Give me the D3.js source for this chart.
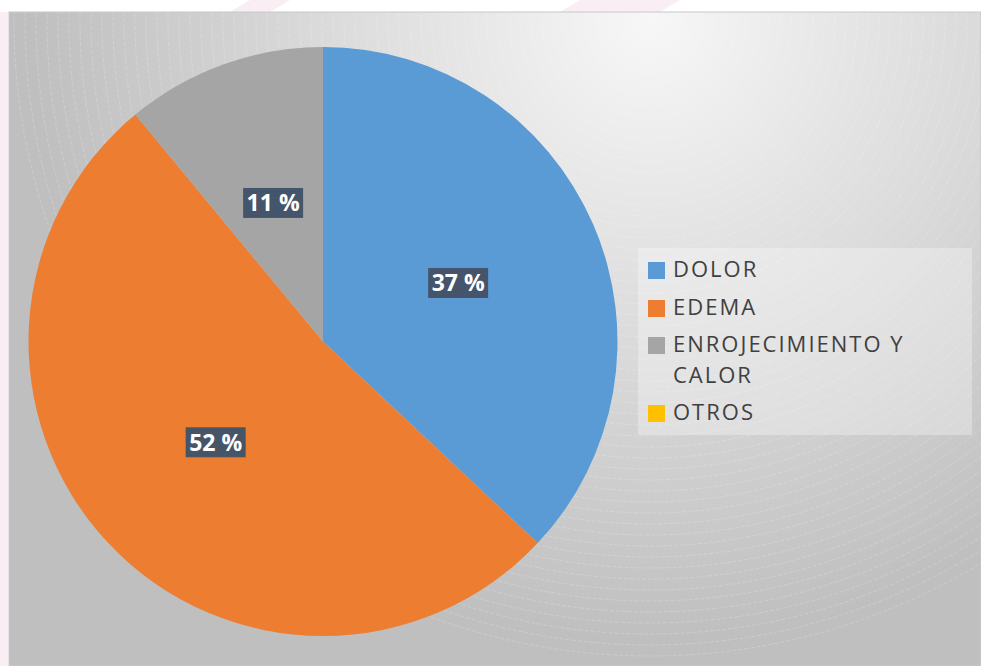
<!DOCTYPE html>
<html>
<head>
<meta charset="utf-8">
<script src="https://cdn.jsdelivr.net/npm/d3@7/dist/d3.min.js"></script>
<style>
  html, body { margin: 0; padding: 0; background: #fff; }
  svg { display: block; }
</style>
</head>
<body>
<svg id="chart" width="981" height="666"></svg>
<script>
'use strict';

const categories = ['DOLOR', 'EDEMA', 'ENROJECIMIENTO Y CALOR', 'OTROS'];
const legendLines = [['DOLOR'], ['EDEMA'], ['ENROJECIMIENTO Y', 'CALOR'], ['OTROS']];
const values = [37, 52, 11, 0];
const colors = ['#5b9bd5', '#ed7d31', '#a5a5a5', '#ffc000'];

const W = 981, H = 666;
const svg = d3.select('#chart');
const defs = svg.append('defs');

// background gradient of the chart area
const grad = defs.append('radialGradient')
  .attr('id', 'bg')
  .attr('gradientUnits', 'userSpaceOnUse')
  .attr('cx', 650).attr('cy', 20).attr('r', 620);
grad.append('stop').attr('offset', '0%').attr('stop-color', '#f7f7f7');
grad.append('stop').attr('offset', '55%').attr('stop-color', '#d9d9d9');
grad.append('stop').attr('offset', '100%').attr('stop-color', '#bfbfbf');

// striped label background
const pat = defs.append('pattern')
  .attr('id', 'stripe')
  .attr('patternUnits', 'userSpaceOnUse')
  .attr('width', 4).attr('height', 4);
pat.append('rect').attr('width', 4).attr('height', 4).attr('fill', '#44546a');
pat.append('rect').attr('y', 2).attr('width', 4).attr('height', 1).attr('fill', '#4d5560');

// faint watermark in the white margin
const wm = svg.append('g').attr('fill', '#f8eef3');
[[230, 60], [560, 120]].forEach(d => {
  wm.append('path')
    .attr('d', `M${d[0]},12 L${d[0] + 20},0 L${d[0] + d[1]},0 L${d[0] + d[1] - 20},12 Z`);
});
wm.append('rect').attr('x', 0).attr('y', 12).attr('width', 8).attr('height', H - 12);

// chart area
const area = { x: 9, y: 12, w: W - 9, h: H - 12 };
svg.append('rect')
  .attr('x', area.x).attr('y', area.y)
  .attr('width', area.w).attr('height', area.h)
  .attr('fill', 'url(#bg)')
  .attr('stroke', '#c8c8c8');

// faint concentric rings
svg.append('clipPath').attr('id', 'areaClip')
  .append('rect').attr('x', area.x).attr('y', area.y).attr('width', area.w).attr('height', area.h);
const rings = svg.append('g')
  .attr('clip-path', 'url(#areaClip)')
  .attr('fill', 'none')
  .attr('stroke', '#ffffff')
  .attr('stroke-opacity', 0.2)
  .attr('stroke-dasharray', '4 2');
d3.range(20, 640, 11).forEach(r => {
  rings.append('circle').attr('cx', 650).attr('cy', 20).attr('r', r);
});

// pie
const cx = 323, cy = 341.5, R = 294.5;
const pie = d3.pie().sort(null).value(d => d.value);
const arcs = pie(categories.map((c, i) => ({ name: c, value: values[i], color: colors[i] })));
const arc = d3.arc().innerRadius(0).outerRadius(R);

const g = svg.append('g').attr('transform', `translate(${cx},${cy})`);
g.selectAll('path')
  .data(arcs.filter(d => d.data.value > 0))
  .join('path')
    .attr('d', arc)
    .attr('fill', d => d.data.color);

// data labels
const labels = g.selectAll('g.lbl')
  .data(arcs.filter(d => d.data.value > 0))
  .join('g')
    .attr('class', 'lbl')
    .attr('transform', d => `translate(${arc.centroid(d)})`);
labels.append('rect')
  .attr('x', -30).attr('y', -15)
  .attr('width', 60).attr('height', 30)
  .attr('fill', 'url(#stripe)');
labels.append('text')
  .text(d => d.data.value + ' %')
  .attr('text-anchor', 'middle')
  .attr('dy', '0.36em')
  .attr('fill', '#ffffff')
  .style('font-family', '"Open Sans", "DejaVu Sans", sans-serif')
  .style('font-weight', 'bold')
  .style('font-size', '23px');

// legend
const lg = svg.append('g');
lg.append('rect')
  .attr('x', 638).attr('y', 248)
  .attr('width', 334).attr('height', 187)
  .attr('fill', '#ffffff').attr('fill-opacity', 0.3);

const baseY = [277, 315, 352, 420];
legendLines.forEach((lines, i) => {
  lg.append('rect')
    .attr('x', 648).attr('y', baseY[i] - 15)
    .attr('width', 17).attr('height', 17)
    .attr('fill', colors[i]);
  lines.forEach((t, j) => {
    lg.append('text')
      .text(t)
      .attr('x', 673).attr('y', baseY[i] + j * 31)
      .attr('fill', '#404040')
      .style('font-family', '"Open Sans", "DejaVu Sans", sans-serif')
      .style('font-size', '22px')
      .style('letter-spacing', '2px');
  });
});
</script>
</body>
</html>
